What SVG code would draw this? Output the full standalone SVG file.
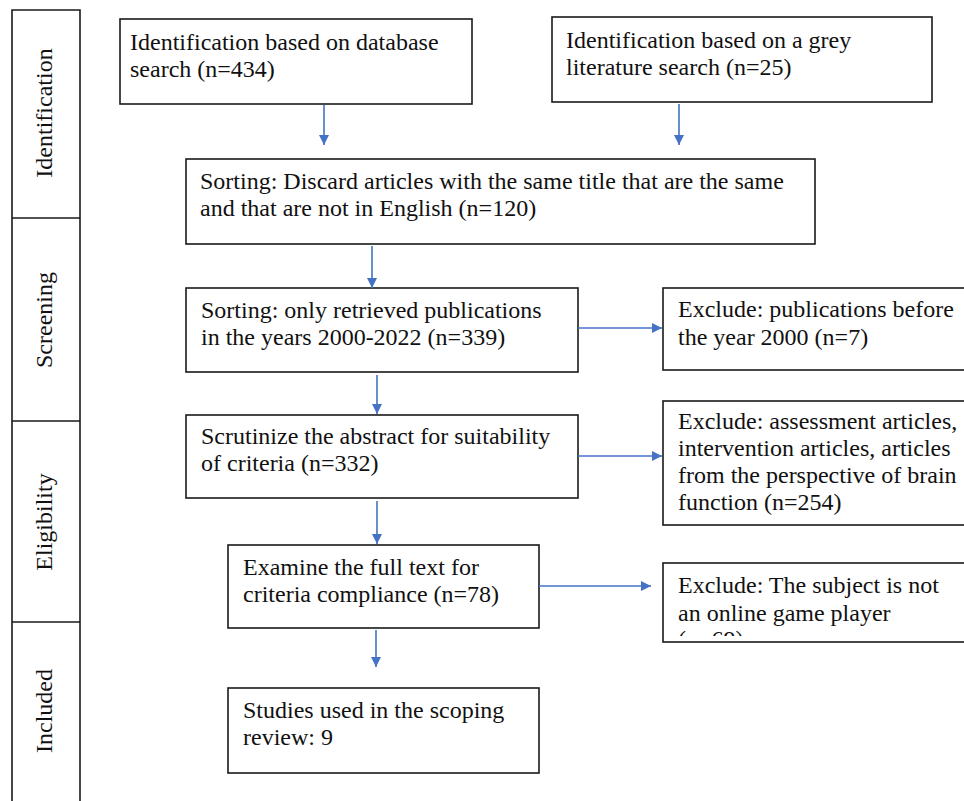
<svg xmlns="http://www.w3.org/2000/svg" width="964" height="801" viewBox="0 0 964 801">
<style>
.box{fill:#fff;stroke:#1a1a1a;stroke-width:1.6}
.side{fill:none;stroke:#1a1a1a;stroke-width:1.6}
.t{font-family:"Liberation Serif","Times New Roman","DejaVu Serif",serif;font-size:24px;fill:#111}
.c{stroke:#4472C4;stroke-width:1.6;fill:none}
</style>
<defs>
<marker id="ah" viewBox="0 0 10 10" refX="10" refY="5" markerWidth="11" markerHeight="10" markerUnits="userSpaceOnUse" orient="auto"><path d="M0,0 L10,5 L0,10 z" fill="#4472C4"/></marker>
<clipPath id="clip3"><rect x="663" y="563" width="301" height="73"/></clipPath>
</defs>
<rect width="964" height="801" fill="#fff"/>
<g id="stages">
<path class="side" d="M12,801 V10 H80 V801 M12,218 H80 M12,421 H80 M12,622 H80"/>
<text class="t" transform="translate(52,113) rotate(-90)" text-anchor="middle">Identification</text>
<text class="t" transform="translate(52,320) rotate(-90)" text-anchor="middle">Screening</text>
<text class="t" transform="translate(52,522) rotate(-90)" text-anchor="middle">Eligibility</text>
<text class="t" transform="translate(52,711) rotate(-90)" text-anchor="middle">Included</text>
</g>
<g id="db">
<rect class="box" x="120" y="19" width="352" height="85"/>
<text class="t" x="130" y="50">Identification based on database</text>
<text class="t" x="130" y="77">search (n=434)</text>
</g>
<g id="grey">
<rect class="box" x="552" y="17" width="380" height="85"/>
<text class="t" x="566" y="48">Identification based on a grey</text>
<text class="t" x="566" y="75">literature search (n=25)</text>
</g>
<g id="sort1">
<rect class="box" x="186" y="159" width="629" height="85"/>
<text class="t" x="200" y="189">Sorting: Discard articles with the same title that are the same</text>
<text class="t" x="200" y="216">and that are not in English (n=120)</text>
</g>
<g id="sort2">
<rect class="box" x="186" y="288" width="392" height="84"/>
<text class="t" x="201" y="318">Sorting: only retrieved publications</text>
<text class="t" x="201" y="345">in the years 2000-2022 (n=339)</text>
</g>
<g id="excl1">
<rect class="box" x="663" y="288" width="310" height="82"/>
<text class="t" x="678" y="317">Exclude: publications before</text>
<text class="t" x="678" y="345">the year 2000 (n=7)</text>
</g>
<g id="scrut">
<rect class="box" x="186" y="415" width="392" height="83"/>
<text class="t" x="201" y="444">Scrutinize the abstract for suitability</text>
<text class="t" x="201" y="471">of criteria (n=332)</text>
</g>
<g id="excl2">
<rect class="box" x="663" y="401" width="310" height="124"/>
<text class="t" x="678" y="429">Exclude: assessment articles,</text>
<text class="t" x="678" y="456">intervention articles, articles</text>
<text class="t" x="678" y="483">from the perspective of brain</text>
<text class="t" x="678" y="510">function (n=254)</text>
</g>
<g id="examine">
<rect class="box" x="228" y="545" width="311" height="83"/>
<text class="t" x="243" y="575">Examine the full text for</text>
<text class="t" x="243" y="602">criteria compliance (n=78)</text>
</g>
<g id="excl3">
<rect class="box" x="663" y="563" width="310" height="79"/>
<g clip-path="url(#clip3)">
<text class="t" x="678" y="593">Exclude: The subject is not</text>
<text class="t" x="678" y="621">an online game player</text>
<text class="t" x="678" y="647">(n=69)</text>
</g>
</g>
<g id="studies">
<rect class="box" x="228" y="688" width="311" height="85"/>
<text class="t" x="243" y="718">Studies used in the scoping</text>
<text class="t" x="243" y="745">review: 9</text>
</g>
<g id="connectors">
<line class="c" x1="324" y1="105" x2="324" y2="145" marker-end="url(#ah)"/>
<line class="c" x1="679" y1="104" x2="679" y2="145" marker-end="url(#ah)"/>
<line class="c" x1="372" y1="246" x2="372" y2="288" marker-end="url(#ah)"/>
<line class="c" x1="377" y1="375" x2="377" y2="414" marker-end="url(#ah)"/>
<line class="c" x1="377" y1="501" x2="377" y2="544" marker-end="url(#ah)"/>
<line class="c" x1="376" y1="630" x2="376" y2="667" marker-end="url(#ah)"/>
<line class="c" x1="578" y1="328" x2="662" y2="328" marker-end="url(#ah)"/>
<line class="c" x1="578" y1="456" x2="662" y2="456" marker-end="url(#ah)"/>
<line class="c" x1="539" y1="586" x2="651" y2="586" marker-end="url(#ah)"/>
</g>
</svg>
